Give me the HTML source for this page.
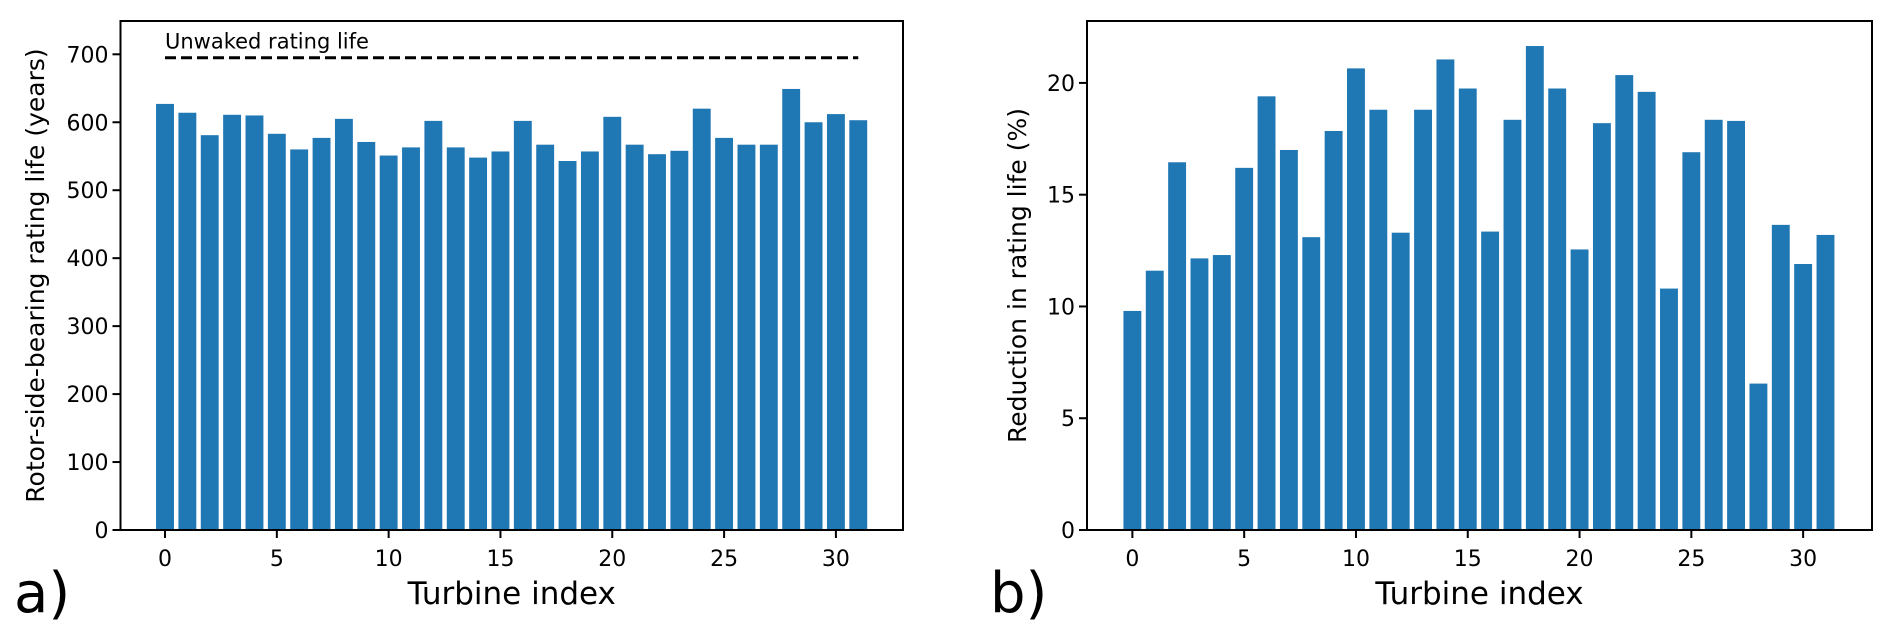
<!DOCTYPE html>
<html><head><meta charset="utf-8"><style>
html,body{margin:0;padding:0;background:#fff;}
svg{display:block;font-family:"DejaVu Sans","Liberation Sans",sans-serif;}
</style></head>
<body>
<svg id="fig" width="1892" height="635" viewBox="0 0 1892 635"></svg>
<script>
const categories = [0,1,2,3,4,5,6,7,8,9,10,11,12,13,14,15,16,17,18,19,20,21,22,23,24,25,26,27,28,29,30,31];
const lifeValues = [627,614,581,611,610,583,560,577,605,571,551,563,602,563,548,557,602,567,543,557,608,567,553,558,620,577,567,567,649,600,612,603];
const reductionValues = [9.8,11.6,16.45,12.15,12.3,16.2,19.4,17.0,13.1,17.85,20.65,18.8,13.3,18.8,21.05,19.75,13.35,18.35,21.65,19.75,12.55,18.2,20.35,19.6,10.8,16.9,18.35,18.3,6.55,13.65,11.9,13.2];
const unwakedLife = [695];
const xTicks = [0,5,10,15,20,25,30];
const leftYTicks = [0,100,200,300,400,500,600,700];
const rightYTicks = [0,5,10,15,20];

const NS = "http://www.w3.org/2000/svg";
const svg = document.getElementById('fig');
function mk(tag, attrs, parent){
  const e = document.createElementNS(NS, tag);
  for (const k in attrs) e.setAttribute(k, attrs[k]);
  (parent||svg).appendChild(e);
  return e;
}
function panel(cfg){
  const g = mk('g', {});
  
  
  const sx = v => cfg.x0 + (v - cfg.xmin) / (cfg.xmax - cfg.xmin) * (cfg.x1 - cfg.x0);
  const sy = v => cfg.y1 - (v - cfg.ymin) / (cfg.ymax - cfg.ymin) * (cfg.y1 - cfg.y0);
  cfg.values.forEach((v, i) => {
    const c = categories[i];
    const r = mk('rect', {x: sx(c - 0.4), y: sy(v), width: sx(c + 0.4) - sx(c - 0.4), height: sy(0) - sy(v), fill: '#1f77b4'}, g);
    
    
  });
  if (cfg.dashed) {
    const l = mk('line', {x1: sx(0), x2: sx(31), y1: sy(cfg.dashed[0]), y2: sy(cfg.dashed[0]), stroke: '#000', 'stroke-width': 3, 'stroke-dasharray': '11,5'}, g);
    
    
    const t = mk('text', {x: sx(0), y: sy(cfg.dashed[0]) - 9, 'font-size': 21, fill: '#000'}, g);
    t.textContent = 'Unwaked rating life';
    
    
  }
  const frame = mk('rect', {x: cfg.x0, y: cfg.y0, width: cfg.x1 - cfg.x0, height: cfg.y1 - cfg.y0, fill: 'none', stroke: '#000', 'stroke-width': 2}, g);
  
  
  xTicks.forEach(v => {
    mk('line', {x1: sx(v), x2: sx(v), y1: cfg.y1, y2: cfg.y1 + 8, stroke: '#000', 'stroke-width': 2}, g);
    const t = mk('text', {x: sx(v), y: cfg.y1 + 36, 'font-size': 22, 'text-anchor': 'middle'}, g);
    t.textContent = v;
    
    
  });
  cfg.yTicks.forEach(v => {
    mk('line', {x1: cfg.x0 - 8, x2: cfg.x0, y1: sy(v), y2: sy(v), stroke: '#000', 'stroke-width': 2}, g);
    const t = mk('text', {x: cfg.x0 - 12, y: sy(v) + 8, 'font-size': 22, 'text-anchor': 'end'}, g);
    t.textContent = v;
    
    
  });
  const xl = mk('text', {x: (cfg.x0 + cfg.x1) / 2, y: 604, 'font-size': 31, 'text-anchor': 'middle'}, g);
  xl.textContent = 'Turbine index';
  
  
  const yc = (cfg.y0 + cfg.y1) / 2;
  const yl = mk('text', {x: cfg.ylx, y: yc, 'font-size': 25, 'text-anchor': 'middle', transform: 'rotate(-90 ' + cfg.ylx + ' ' + yc + ')'}, g);
  yl.textContent = cfg.ylabel;
  
  
  const pl = mk('text', {x: cfg.plx, y: 612, 'font-size': 56}, g);
  pl.textContent = cfg.plabel;
  
  
}
panel({name: 'rating-life-chart', values: lifeValues, x0: 120.5, x1: 903, y0: 21, y1: 530, xmin: -1.99, xmax: 33.0, ymin: 0, ymax: 749, yTicks: leftYTicks, dashed: unwakedLife, ylabel: 'Rotor-side-bearing rating life (years)', ylx: 44, plabel: 'a)', plx: 14});
panel({name: 'reduction-chart', values: reductionValues, x0: 1087, x1: 1872, y0: 21, y1: 530, xmin: -2.03, xmax: 33.08, ymin: 0, ymax: 22.77, yTicks: rightYTicks, ylabel: 'Reduction in rating life (%)', ylx: 1026, plabel: 'b)', plx: 990});
</script>
</body></html>
